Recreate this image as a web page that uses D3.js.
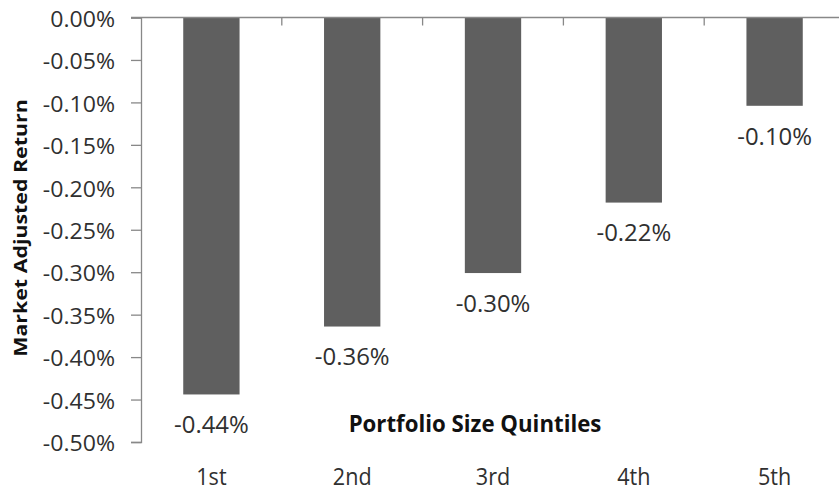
<!DOCTYPE html>
<html>
<head>
<meta charset="utf-8">
<script src="https://cdn.jsdelivr.net/npm/d3@7"></script>
<style>
  html, body { margin: 0; padding: 0; background: #fff; }
  svg { display: block; }
  text { font-family: "Open Sans", "Liberation Sans", sans-serif; }
</style>
</head>
<body>
<svg id="chart" width="839" height="493"></svg>
<script>
// Portfolio size quintiles and their market-adjusted returns (in percent)
const categories = ["1st", "2nd", "3rd", "4th", "5th"];
const returns = [-0.444, -0.364, -0.301, -0.218, -0.104];
const yTicks = [0, -0.05, -0.10, -0.15, -0.20, -0.25, -0.30, -0.35, -0.40, -0.45, -0.50];
const yTitle = "Market Adjusted Return";
const xTitle = "Portfolio Size Quintiles";

const svg = d3.select("#chart");
const W = 839, H = 493;
const plotLeft = 141, plotTop = 17.5, plotBottom = 442, plotRight = 845;

const x = d3.scaleBand()
  .domain(categories)
  .range([plotLeft, plotRight])
  .paddingInner(0.6)
  .paddingOuter(0.3);

const y = d3.scaleLinear()
  .domain([0, -0.5])
  .range([plotTop, plotBottom]);

const fmt = v => (Math.abs(v) < 1e-9 ? 0 : v).toFixed(2) + "%";
const axisColor = "#888888";
const textColor = "#303030";

// text anchored at (px, py), optionally stretched along its baseline
function label(g, px, py, str, opts) {
  const grp = g.append("g")
    .attr("transform", `translate(${px},${py}) scale(${opts.sx || 1},1)`);
  grp.append("text")
    .attr("text-anchor", opts.anchor || "middle")
    .attr("dominant-baseline", "central")
    .attr("font-size", opts.size)
    .attr("font-weight", opts.weight || "normal")
    .attr("fill", opts.fill || textColor)
    .text(str);
  return grp;
}

// bars
svg.append("g").selectAll("rect")
  .data(returns)
  .join("rect")
  .attr("x", (d, i) => x(categories[i]))
  .attr("width", x.bandwidth())
  .attr("y", y(0))
  .attr("height", d => y(d) - y(0))
  .attr("fill", "#5f5f5f");

// value axis (left)
const yAxis = svg.append("g")
  .attr("transform", `translate(${plotLeft},0)`)
  .call(d3.axisLeft(y).tickValues(yTicks).tickSize(10).tickFormat(""));
yAxis.select(".domain").attr("stroke", axisColor).attr("stroke-width", 1.3);
yAxis.selectAll(".tick line").attr("stroke", axisColor).attr("stroke-width", 1.3);

const tickLabels = svg.append("g");
yTicks.forEach(t => label(tickLabels, 115, y(t) + 1, fmt(t),
  { size: 22, anchor: "end", sx: 1.05 }));

// category axis along the zero line, ticks between categories
const catAxis = svg.append("g");
catAxis.append("line")
  .attr("x1", plotLeft - 10).attr("x2", W)
  .attr("y1", y(0)).attr("y2", y(0))
  .attr("stroke", axisColor).attr("stroke-width", 1.3);
categories.forEach((c, i) => {
  if (i === 0) return;
  const bx = plotLeft + i * x.step();
  catAxis.append("line")
    .attr("x1", bx).attr("x2", bx)
    .attr("y1", y(0)).attr("y2", y(0) + 8)
    .attr("stroke", axisColor).attr("stroke-width", 1.3);
});

// category labels at the bottom
const catLabels = svg.append("g");
categories.forEach(c => label(catLabels, x(c) + x.bandwidth() / 2, 476, c,
  { size: 23.5, sx: 0.92 }));

// value labels beneath each bar
const valLabels = svg.append("g");
returns.forEach((d, i) => label(valLabels, x(categories[i]) + x.bandwidth() / 2, y(d) + 30, fmt(d),
  { size: 23, sx: 1.04 }));

// axis titles
label(svg, 475, 423, xTitle, { size: 23.4, weight: "bold", sx: 0.95, fill: "#111" });
const yt = svg.append("g").attr("transform", `translate(20,228) rotate(-90)`);
label(yt, 0, 0, yTitle, { size: 17.5, weight: "bold", sx: 1.22, fill: "#111" });
</script>
</body>
</html>
